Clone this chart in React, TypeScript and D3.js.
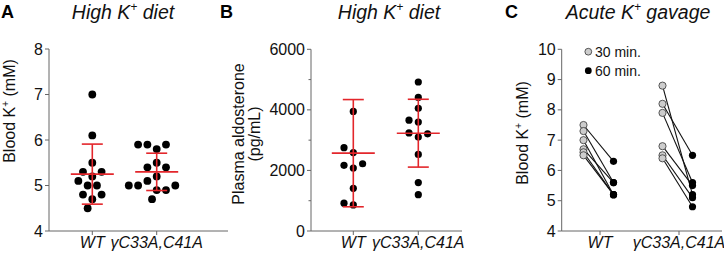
import React from "react";
import * as d3 from "d3";

// ---------- data ----------
const groups = ["WT", "γC33A,C41A"];

// Panel A: blood K+ (mM), high K+ diet
const bloodKWT = [7.0, 6.1, 5.5, 5.2, 5.3, 5.3, 5.0, 5.1, 5.0, 4.7, 4.8, 4.8, 4.5];
const bloodKMut = [5.5, 5.2, 5.4, 5.4, 5.1, 4.9, 4.9, 5.0, 5.0, 5.0, 4.7, 5.8, 5.9, 5.9, 5.9];
const bloodKMean = [5.25, 5.3];
const bloodKSD = [0.66, 0.41];
const ticksA = [4, 5, 6, 7, 8];

// Panel B: plasma aldosterone (pg/mL), high K+ diet
const aldoWT = [3950, 2590, 2750, 2080, 2170, 2220, 1410, 860, 920];
const aldoMut = [4920, 4410, 4050, 3600, 3100, 3240, 3210, 3660, 2530, 1600, 1200];
const aldoMean = [2570, 3230];
const aldoSD = [1770, 1120];
const ticksB = [0, 2000, 4000, 6000];
const minorTicksB = [1000, 3000, 5000];

// Panel C: acute K+ gavage, blood K+ at 30 and 60 min
const times = ["30 min.", "60 min."];
const gavWT30 = [7.5, 7.3, 7.0, 6.7, 6.6, 6.5];
const gavWT60 = [6.3, 5.6, 5.2, 5.6, 5.2, 5.2];
const gavMut30 = [8.8, 8.2, 7.9, 6.8, 6.5, 6.4];
const gavMut60 = [5.2, 6.5, 5.6, 5.5, 5.1, 4.8];
const ticksC = [4, 5, 6, 7, 8, 9, 10];

// ---------- styles ----------
const FONT = "'Liberation Sans', Arial, Helvetica, sans-serif";
const AXIS = "#666";
const RED = "#e3262b";
const GRAY = "#cdcdcd";

function swarm(values: number[], y: (v: number) => number, D: number, step: number) {
  const placed: { x: number; y: number }[] = [];
  return values.map((v) => {
    const py = y(v);
    for (let k = 0; k < 50; k++) {
      const cands = k === 0 ? [0] : [-k * step, k * step];
      for (const cx of cands) {
        if (placed.every((p) => (p.x - cx) ** 2 + (p.y - py) ** 2 >= D * D - 0.01)) {
          placed.push({ x: cx, y: py });
          return { v, dx: cx, y: py };
        }
      }
    }
    return { v, dx: 0, y: py };
  });
}

type YAxisProps = {
  x: number;
  y: d3.ScaleLinear<number, number>;
  ticks: number[];
  minor?: number[];
};
function YAxis({ x, y, ticks, minor = [] }: YAxisProps) {
  const [r0, r1] = y.range();
  return (
    <g>
      <line x1={x} x2={x} y1={r0} y2={r1} stroke={AXIS} strokeWidth={1} />
      {ticks.map((t) => (
        <g key={t}>
          <line x1={x - 4} x2={x} y1={y(t)} y2={y(t)} stroke={AXIS} />
          <text x={x - 6} y={y(t)} dy="0.35em" textAnchor="end" fontSize={16} fill="#111">
            {t}
          </text>
        </g>
      ))}
      {minor.map((t) => (
        <line key={"m" + t} x1={x - 2.5} x2={x} y1={y(t)} y2={y(t)} stroke={AXIS} />
      ))}
    </g>
  );
}

function XAxis({ x0, x1, y0, xs }: { x0: number; x1: number; y0: number; xs: d3.ScalePoint<string> }) {
  return (
    <g>
      <line x1={x0} x2={x1} y1={y0} y2={y0} stroke={AXIS} />
      {groups.map((g) => (
        <g key={g}>
          <line x1={xs(g)!} x2={xs(g)!} y1={y0} y2={y0 + 4} stroke={AXIS} />
          <text x={xs(g)!} y={248} textAnchor="middle" fontSize={16} fontStyle="italic" fill="#111">
            {g}
          </text>
        </g>
      ))}
    </g>
  );
}

function Title({ x, text1, text2 }: { x: number; text1: string; text2: string }) {
  return (
    <text x={x} y={18.5} textAnchor="middle" fontSize={19.5} fontStyle="italic" fill="#111">
      {text1}
      <tspan fontSize={12} dy={-7.5}>+</tspan>
      <tspan dy={7.5}>{text2}</tspan>
    </text>
  );
}

function Scatter({
  xs,
  y,
  data,
  means,
  sds,
  r,
}: {
  xs: d3.ScalePoint<string>;
  y: d3.ScaleLinear<number, number>;
  data: number[][];
  means: number[];
  sds: number[];
  r: number;
}) {
  return (
    <g>
      {data.map((vals, gi) => {
        const cx = xs(groups[gi])!;
        const pts = swarm(vals, y, 9.3, 4.65);
        return (
          <g key={gi}>
            {pts.map((p, i) => (
              <circle key={i} cx={cx + p.dx} cy={p.y} r={r} fill="#000" />
            ))}
          </g>
        );
      })}
      {means.map((m, gi) => {
        const cx = xs(groups[gi])!;
        const top = y(m + sds[gi]);
        const bot = y(m - sds[gi]);
        return (
          <g key={"e" + gi} stroke={RED} strokeWidth={1.6}>
            <line x1={cx} x2={cx} y1={top} y2={bot} />
            <line x1={cx - 10.5} x2={cx + 10.5} y1={top} y2={top} />
            <line x1={cx - 10.5} x2={cx + 10.5} y1={bot} y2={bot} />
            <line x1={cx - 21.5} x2={cx + 21.5} y1={y(m)} y2={y(m)} />
          </g>
        );
      })}
    </g>
  );
}

function BloodLabel({ x, cy }: { x: number; cy: number }) {
  return (
    <text transform={`translate(${x},${cy}) rotate(-90)`} textAnchor="middle" fontSize={16} fill="#111">
      Blood K<tspan fontSize={10} dy={-6}>+</tspan>
      <tspan dy={6}> (mM)</tspan>
    </text>
  );
}

export default function App() {
  // Panel A
  const yA = d3.scaleLinear().domain([4, 8]).range([231, 49]);
  const xA = d3.scalePoint<string>().domain(groups).range([92.3, 156.7]);
  // Panel B
  const yB = d3.scaleLinear().domain([0, 6000]).range([231, 49.3]);
  const xB = d3.scalePoint<string>().domain(groups).range([353.3, 418.3]);
  // Panel C
  const yC = d3.scaleLinear().domain([4, 10]).range([231, 49.3]);
  const xC = d3.scalePoint<string>().domain(groups).range([600, 679]);
  const tC = d3.scalePoint<string>().domain(times).range([-16.5, 13.5]);

  const pairs = [
    { g: groups[0], a: gavWT30, b: gavWT60 },
    { g: groups[1], a: gavMut30, b: gavMut60 },
  ];

  return (
    <svg
      width={724}
      height={253}
      style={{ position: "absolute", left: 0, top: 0, background: "#fff" }}
      fontFamily={FONT}
    >
      {/* Panel letters */}
      <text x={1} y={18} fontSize={18} fontWeight="bold" fill="#000">A</text>
      <text x={220} y={18} fontSize={18} fontWeight="bold" fill="#000">B</text>
      <text x={505} y={18} fontSize={18} fontWeight="bold" fill="#000">C</text>

      {/* Titles */}
      <Title x={123} text1="High K" text2=" diet" />
      <Title x={389} text1="High K" text2=" diet" />
      <Title x={638} text1="Acute K" text2=" gavage" />

      {/* Panel A */}
      <YAxis x={49} y={yA} ticks={ticksA} />
      <XAxis x0={49} x1={228} y0={231} xs={xA} />
      <BloodLabel x={15} cy={111} />
      <Scatter xs={xA} y={yA} data={[bloodKWT, bloodKMut]} means={bloodKMean} sds={bloodKSD} r={3.9} />

      {/* Panel B */}
      <YAxis x={311} y={yB} ticks={ticksB} minor={minorTicksB} />
      <XAxis x0={311} x1={462} y0={231} xs={xB} />
      <text transform={`translate(244,134) rotate(-90)`} textAnchor="middle" fontSize={16} fill="#111">
        Plasma aldosterone
      </text>
      <text transform={`translate(260,134) rotate(-90)`} textAnchor="middle" fontSize={16} fill="#111">
        (pg/mL)
      </text>
      <Scatter xs={xB} y={yB} data={[aldoWT, aldoMut]} means={aldoMean} sds={aldoSD} r={3.6} />

      {/* Panel C */}
      <YAxis x={561.7} y={yC} ticks={ticksC} />
      <XAxis x0={561.7} x1={722} y0={231} xs={xC} />
      <BloodLabel x={528} cy={133} />
      {pairs.map((p) => {
        const gx = xC(p.g)!;
        return (
          <g key={p.g}>
            {p.a.map((v, i) => (
              <line
                key={"l" + i}
                x1={gx + tC(times[0])!}
                y1={yC(v)}
                x2={gx + tC(times[1])!}
                y2={yC(p.b[i])}
                stroke="#111"
                strokeWidth={1.1}
              />
            ))}
            {p.a.map((v, i) => (
              <circle key={"a" + i} cx={gx + tC(times[0])!} cy={yC(v)} r={3.6} fill={GRAY} stroke="#333" strokeWidth={0.8} />
            ))}
            {p.b.map((v, i) => (
              <circle key={"b" + i} cx={gx + tC(times[1])!} cy={yC(v)} r={3.6} fill="#000" />
            ))}
          </g>
        );
      })}
      {/* Legend */}
      <g>
        <circle cx={588.3} cy={51.7} r={3.4} fill={GRAY} stroke="#333" strokeWidth={0.8} />
        <text x={595} y={51.7} dy="0.35em" fontSize={14} fill="#111">{times[0]}</text>
        <circle cx={588.3} cy={70.7} r={3.4} fill="#000" />
        <text x={595} y={70.7} dy="0.35em" fontSize={14} fill="#111">{times[1]}</text>
      </g>
    </svg>
  );
}
